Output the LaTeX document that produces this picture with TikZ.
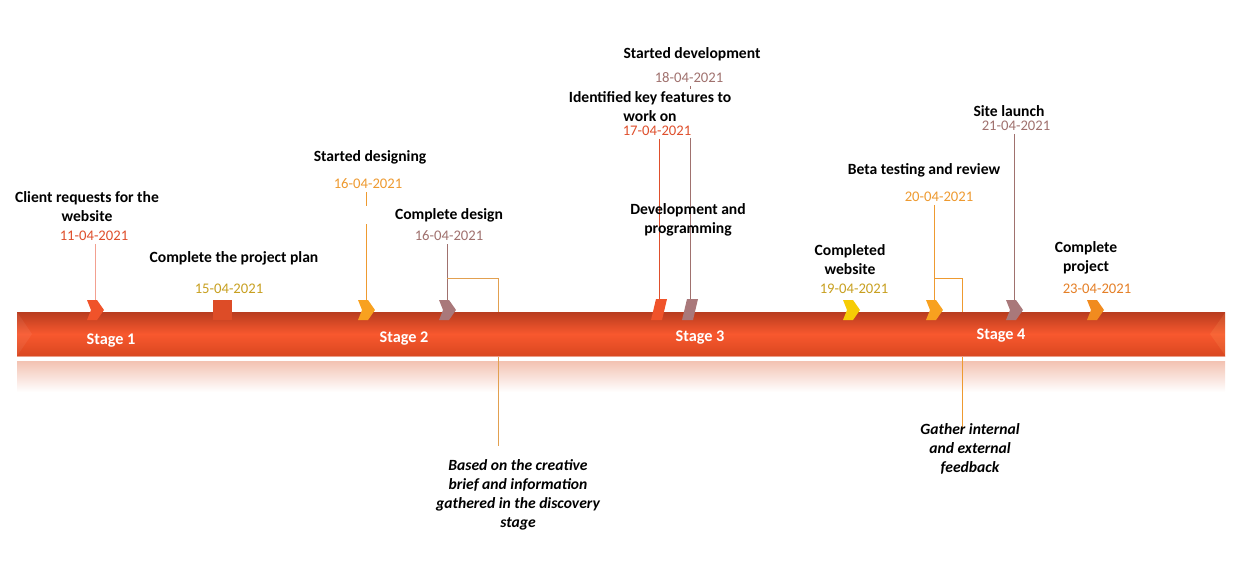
\documentclass[tikz,border=0pt]{standalone}
\usepackage{fontspec}
\setmainfont{Carlito}
\usetikzlibrary{calc, backgrounds}

\definecolor{barTop}{HTML}{B83C1F}
\definecolor{barMid}{HTML}{F8582E}
\definecolor{barBot}{HTML}{D94720}
\definecolor{reflTop}{HTML}{F3C2B2}
\definecolor{cRed}{HTML}{DF4F2C}
\definecolor{cGold}{HTML}{C8A020}
\definecolor{cOrange}{HTML}{EE9A30}
\definecolor{cMauve}{HTML}{A0716E}
\definecolor{cDeep}{HTML}{E57F26}
\definecolor{mRed}{HTML}{F0532A}
\definecolor{mOrange}{HTML}{F8A11F}
\definecolor{mMauve}{HTML}{A9787A}
\definecolor{mYellow}{HTML}{F6CC05}
\definecolor{mDeep}{HTML}{F18B1F}
\definecolor{lPink}{HTML}{F2A090}
\definecolor{lBranch}{HTML}{E2A050}

\begin{document}
\begin{tikzpicture}[x=0.75pt, y=-0.75pt, line width=0.75pt,
    every node/.style={font=\fontsize{11pt}{14.2pt}\selectfont, inner sep=2pt},
    evtitle/.style={font=\fontsize{11.7pt}{14.2pt}\selectfont\bfseries, align=center, fill=white},
    evdate/.style={fill=white},
    evnote/.style={font=\fontsize{11.7pt}{14.2pt}\selectfont\bfseries\itshape, align=center},
    stagelabel/.style={font=\fontsize{12.2pt}{14.2pt}\selectfont\bfseries, text=white}]
        \def\chevmark#1#2{\fill[#2] (#1) ++(-8,0) -- ++(10,0) -- ++(7,10) -- ++(-7,10) -- ++(-10,0) -- ++(4,-10) -- cycle;}
        \def\slantmark#1#2{\fill[#2] (#1) ++(-3,0) -- ++(11,0) -- ++(-5,21) -- ++(-11,0) -- cycle;}

        \useasboundingbox (0,0) rectangle (1248,572);

        % time bar
        \shade[top color=barTop, bottom color=barBot, middle color=barMid] (17,312) rectangle (1225,356);
        \fill[white, opacity=0.06] (17,312) -- (32,334) -- (17,356) -- cycle;
        \fill[orange!60!white, opacity=0.15] (1225,313) -- (1210,334) -- (1225,355) -- cycle;
        \draw[reflTop!70!barBot, line width=0.6pt] (17,356) -- (1225,356);

        \coordinate (m1) at (95,300);
        \coordinate (m2) at (222,300);
        \coordinate (m3) at (366,300);
        \coordinate (m4) at (447,300);
        \coordinate (m5) at (659,299);
        \coordinate (m6) at (690,299);
        \coordinate (m7) at (851,300);
        \coordinate (m8) at (934,300);
        \coordinate (m9) at (1014,300);
        \coordinate (m10) at (1095,300);

        \chevmark{m1}{mRed}
        \fill[mRed!92!black] ($(m2)+(-9,0)$) rectangle ++(19,20);
        \chevmark{m3}{mOrange}
        \chevmark{m4}{mMauve}
        \slantmark{m5}{mRed}
        \slantmark{m6}{mMauve}
        \chevmark{m7}{mYellow}
        \chevmark{m8}{mOrange}
        \chevmark{m9}{mMauve}
        \chevmark{m10}{mDeep}

        \node[stagelabel] (s1) at (111,341) {Stage 1};
        \node[stagelabel] (s2) at (404,339) {Stage 2};
        \node[stagelabel] (s3) at (700,338) {Stage 3};
        \node[stagelabel] (s4) at (1001,336) {Stage 4};

        % events
        \node[evtitle] (t1) at (87,206.5) {Client requests for the\\website};
        \node[evdate, text=cRed] (d1) at (94,236) {11-04-2021};
        \node[evtitle] (t2) at (234,258) {Complete the project plan};
        \node[evdate, text=cGold] (d2) at (229,289) {15-04-2021};
        \node[evtitle] (t3) at (370,157) {Started designing};
        \node[evdate, text=cOrange] (d3) at (368,184) {16-04-2021};
        \node[evtitle, minimum width=130pt] (t4) at (449,215) {Complete design};
        \node[evdate, text=cMauve] (d4) at (449,236) {16-04-2021};
        \node[evtitle] (t6) at (692,54) {Started development};
        \node[evdate, text=cMauve] (d6) at (689,78) {18-04-2021};
        \node[evtitle] (t5) at (650,106.5) {Identified key features to\\work on};
        \node[evdate, text=cRed] (d5) at (657,131) {17-04-2021};
        \node[evtitle, fill=none] (dp) at (688,219.5) {Development and\\programming};
        \node[evtitle] (t7) at (850,259.5) {Completed\\website};
        \node[evdate, text=cGold] (d7) at (854,289) {19-04-2021};
        \node[evtitle] (t8) at (924,170) {Beta testing and review};
        \node[evdate, text=cOrange] (d8) at (939,197) {20-04-2021};
        \node[evtitle] (t9) at (1009,111) {Site launch};
        \node[evdate, text=cMauve] (d9) at (1016,126) {21-04-2021};
        \node[evtitle] (t10) at (1086,257.5) {Complete\\project};
        \node[evdate, text=cDeep] (d10) at (1097,289) {23-04-2021};

        \node[evnote] (nb) at (518,495) {Based on the creative\\brief and information\\gathered in the discovery\\stage};
        \node[evnote] (gf) at (970,449) {Gather internal\\and external\\feedback};

        \coordinate (b1) at (447,278);
        \coordinate (k1) at (498,446);
        \coordinate (b2) at (934,278);
        \coordinate (k2) at (962,428);

        \begin{scope}[on background layer]
            \shade[top color=reflTop, bottom color=white] (17,361) rectangle (1225,392);
            \draw[lPink] (m1 |- d1.south) -- (m1);
            \draw[cOrange] (m3 |- d3.south) -- (m3);
            \draw[cMauve] (m4 |- d4.south) -- (m4);
            \draw[lBranch] (b1) -| (k1);
            \draw[cRed] (m5 |- d5.south) -- (m5);
            \draw[cMauve] (m6 |- d6.south) -- (m6);
            \draw[cOrange] (m8 |- d8.south) -- (m8);
            \draw[cOrange] (b2) -| (k2);
            \draw[cMauve] (m9 |- d9.south) -- (m9);
        \end{scope}
    \end{tikzpicture}
\end{document}
